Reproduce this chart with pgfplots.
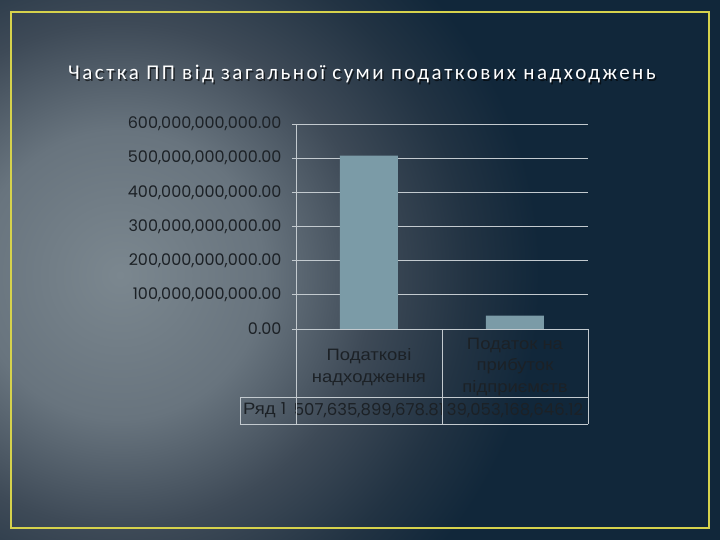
\documentclass[border=0pt]{standalone}
\usepackage{fontspec}
\usepackage{pgfplots}
\pgfplotsset{compat=1.18}
\usetikzlibrary{calc, backgrounds}
\setmainfont{Liberation Sans}
\newfontfamily\numfont{Poppins}
\newfontfamily\catfont[FakeStretch=1.12]{Liberation Sans}
\newfontfamily\titlefont[LetterSpace=12]{Carlito}
\definecolor{outerbg}{HTML}{2B3540}
\definecolor{bgA}{HTML}{7B878F}
\definecolor{bgB}{HTML}{68747E}
\definecolor{bgC}{HTML}{3E4A57}
\definecolor{bgD}{HTML}{223343}
\definecolor{bgE}{HTML}{11273A}
\definecolor{framec}{HTML}{D6D24C}
\definecolor{gridc}{HTML}{C3CACF}
\definecolor{barc}{HTML}{7B9BA7}
\definecolor{tickc}{HTML}{1C2126}
% tikz fits the 25bp circle of a radial shading to the path
\pgfdeclareradialshading{slidebg}{\pgfpoint{0bp}{0bp}}{%
  color(0bp)=(bgA); color(6bp)=(bgB); color(10.5bp)=(bgC);
  color(14.5bp)=(bgD); color(17.5bp)=(bgE); color(50bp)=(bgE)}

\begin{document}
\begin{tikzpicture}
\begin{axis}[
  scale only axis,
  width=292pt, height=205pt,
  ybar,
  bar width=58pt,
  xmin=-0.5, xmax=1.5,
  ymin=0, ymax=600000000000,
  scaled y ticks=false,
  xtick={0,1},
  xticklabels={Податкові\\надходження, Податок на\\прибуток\\підприємств},
  xticklabel style={anchor=center, yshift=-34pt, align=center,
    font=\catfont\fontsize{16.5}{21.5}\selectfont, text=tickc},
  xtick style={draw=none},
  ytick={0,100000000000,200000000000,300000000000,400000000000,500000000000,600000000000},
  yticklabels={0.00,{100,000,000,000.00},{200,000,000,000.00},{300,000,000,000.00},
    {400,000,000,000.00},{500,000,000,000.00},{600,000,000,000.00}},
  yticklabel style={font=\numfont\fontsize{16}{18}\selectfont, text=tickc, xshift=-7pt},
  tick align=outside,
  major tick length=8pt,
  ytick style={draw=gridc, line width=0.8pt},
  axis x line=bottom,
  axis y line=left,
  axis line style={-, draw=gridc, line width=0.8pt},
  ymajorgrids,
  grid style={draw=gridc, line width=0.8pt},
  clip=false,
]
\addplot[fill=barc, draw=none] coordinates {(0,507635899678.81) (1,39053168646.12)};
\coordinate (o) at (rel axis cs:0,0);
\node[font=\numfont\fontsize{16.5}{18}\selectfont, text=tickc] at (axis cs:0,0) [yshift=-81.5pt] {507,635,899,678.81};
\node[font=\numfont\fontsize{16.5}{18}\selectfont, text=tickc] at (axis cs:1,0) [yshift=-81.5pt] {39,053,168,646.12};
\end{axis}

\begin{scope}[shift={($(o)+(-296pt,-211pt)$)}, x=1pt, y=1pt]
  \begin{scope}[on background layer]
    \fill[outerbg] (0,0) rectangle (720,540);
    \begin{scope}
      \clip (0,0) rectangle (720,540);
      \fill[bgE] (0,0) rectangle (720,540);
      \shade[shading=slidebg] (120,265) circle (600);
    \end{scope}
  \end{scope}
  \draw[framec, line width=2.5pt] (11,12) rectangle (709,528);
  % title with a soft shadow
  \node[anchor=base, text=black, opacity=0.6,
        font=\titlefont\fontsize{21}{25}\selectfont] at (363.5,458.5)
    {Частка ПП від загальної суми податкових надходжень};
  \node[anchor=base, text=white,
        font=\titlefont\fontsize{21}{25}\selectfont] at (362,460)
    {Частка ПП від загальної суми податкових надходжень};
  % data table grid under the categories
  \draw[gridc, line width=0.8pt] (296,211) -- (296,116);
  \draw[gridc, line width=0.8pt] (442,211) -- (442,116);
  \draw[gridc, line width=0.8pt] (588,211) -- (588,116);
  \draw[gridc, line width=0.8pt] (240,143) -- (588,143);
  \draw[gridc, line width=0.8pt] (240,116) -- (588,116);
  \draw[gridc, line width=0.8pt] (240,116) -- (240,143);
  \node[anchor=west, text=tickc, font=\catfont\fontsize{16.5}{18}\selectfont, inner sep=0pt] at (243,129.5)
    {Ряд {\numfont 1}};
  \pgfresetboundingbox
  \useasboundingbox (0,0) rectangle (720,540);
\end{scope}
\end{tikzpicture}
\end{document}
